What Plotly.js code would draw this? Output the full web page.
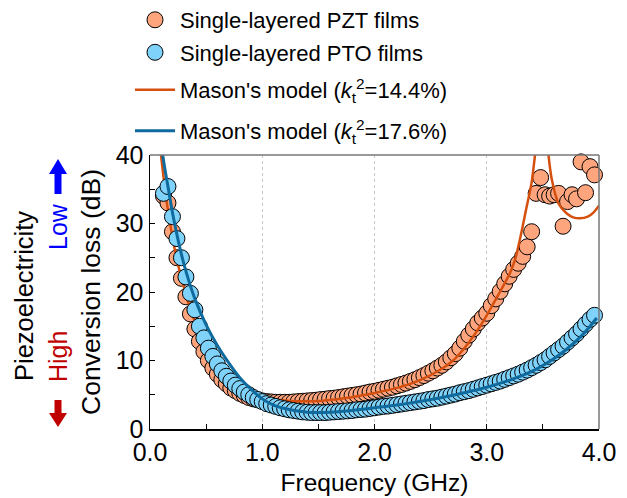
<!DOCTYPE html>
<html>
<head>
<meta charset="utf-8">
<script src="https://cdn.plot.ly/plotly-3.0.1.min.js"></script>
<style>html,body{margin:0;padding:0;background:#fff}#chart{width:627px;height:498px}</style>
</head>
<body>
<div id="chart"></div>
<script>
// Measured frequency points (GHz)
const freq = [0.12,0.16,0.20,0.24,0.28,0.32,0.36,0.40,0.44,0.48,
  0.52,0.56,0.60,0.64,0.68,0.72,0.76,0.80,0.84,0.88,
  0.92,0.96,1.00,1.04,1.08,1.12,1.16,1.20,1.24,1.28,
  1.32,1.36,1.40,1.44,1.48,1.52,1.56,1.60,1.64,1.68,
  1.72,1.76,1.80,1.84,1.88,1.92,1.96,2.00,2.04,2.08,
  2.12,2.16,2.20,2.24,2.28,2.32,2.36,2.40,2.44,2.48,
  2.52,2.56,2.60,2.64,2.68,2.72,2.76,2.80,2.84,2.88,
  2.92,2.96,3.00,3.04,3.08,3.12,3.16,3.20,3.24,3.28,
  3.32,3.36,3.40,3.44,3.48,3.52,3.56,3.60,3.64,3.68,
  3.72,3.76,3.80,3.84,3.88,3.92,3.96];

// Single-layered PZT films, conversion loss (dB)
const lossPZT = [34.0,33.0,28.8,25.0,22.0,19.3,16.8,14.6,12.8,11.3,
  10.0,8.9,8.0,7.2,6.6,6.0,5.6,5.2,4.9,4.6,
  4.4,4.25,4.1,4.0,3.95,3.9,3.9,3.9,3.9,3.95,
  4.0,4.05,4.1,4.15,4.2,4.3,4.35,4.45,4.5,4.6,
  4.7,4.8,4.9,5.0,5.1,5.25,5.4,5.5,5.65,5.8,
  5.95,6.1,6.3,6.5,6.7,6.95,7.2,7.5,7.8,8.15,
  8.5,8.9,9.3,9.8,10.4,11.0,11.8,12.8,13.7,14.6,
  15.5,16.2,16.9,18.0,19.0,20.1,21.2,22.3,23.3,24.2,
  25.2,26.6,28.8,34.4,36.7,34.2,34.0,34.2,34.4,29.6,
  33.2,34.2,33.6,39.0,34.5,38.3,37.1];

// Single-layered PTO films, conversion loss (dB)
const lossPTO = [34.4,35.4,31.0,27.8,25.0,22.2,19.8,17.4,15.0,13.3,
  11.8,10.6,9.5,8.5,7.7,7.0,6.4,5.9,5.4,5.0,
  4.6,4.3,4.0,3.7,3.5,3.3,3.1,2.95,2.8,2.7,
  2.6,2.5,2.45,2.4,2.4,2.4,2.4,2.45,2.5,2.55,
  2.6,2.65,2.7,2.8,2.85,2.9,3.0,3.1,3.2,3.3,
  3.35,3.45,3.55,3.65,3.75,3.85,3.95,4.05,4.15,4.3,
  4.4,4.5,4.65,4.8,4.95,5.1,5.3,5.45,5.6,5.8,
  6.0,6.2,6.4,6.6,6.8,7.0,7.25,7.5,7.75,8.0,
  8.3,8.6,8.95,9.3,9.7,10.1,10.6,11.1,11.6,12.1,
  12.7,13.3,13.9,14.6,15.3,16.0,16.6];

// Mason's model, kt^2 = 14.4 % (null = break at resonance)
const masonF144 = [0.098,0.12,0.15,0.2,0.25,0.3,0.35,0.4,0.5,0.6,0.7,0.8,0.9,1.0,1.1,1.2,1.3,1.4,1.5,1.6,1.8,2.0,2.2,2.4,2.6,2.7,2.8,2.9,3.0,3.1,3.2,3.25,3.3,3.35,3.4,3.43,3.45,
  null,3.53,3.55,3.58,3.64,3.71,3.77,3.83,3.9,3.95,4.0];
const masonL144 = [40,36.8,33.0,28.0,24.0,20.8,18.0,15.7,12.2,9.6,7.8,6.4,5.4,4.8,4.4,4.15,4.05,4.05,4.1,4.25,4.65,5.25,6.0,7.1,8.8,10.0,11.8,14.0,16.6,19.5,22.5,24.6,28.0,32.0,36.0,40,43,
  null,44,40,36.4,32.9,31.5,30.9,30.75,31.0,31.6,32.6];

// Mason's model, kt^2 = 17.6 %
const masonF176 = [0.113,0.13,0.16,0.2,0.25,0.3,0.35,0.4,0.5,0.6,0.7,0.8,0.9,1.0,1.1,1.2,1.3,1.4,1.5,1.6,1.7,1.8,1.9,2.0,2.2,2.4,2.6,2.8,3.0,3.2,3.4,3.6,3.7,3.8,3.9,3.98];
const masonL176 = [40,38.2,35.4,31.6,27.6,24.2,21.4,19.0,15.2,12.2,9.7,7.5,5.8,4.4,3.5,3.0,2.65,2.45,2.4,2.45,2.55,2.7,2.9,3.1,3.5,4.0,4.6,5.3,6.1,7.1,8.4,10.3,11.5,12.9,14.6,16.2];

const xTickVals = [0,1,2,3,4];
const xTickText = ['0.0','1.0','2.0','3.0','4.0'];
const yTickVals = [0,10,20,30,40];

const FONT = 'Arial, "Liberation Sans", sans-serif';
const FS = 25, LFS = 22;
const W = 627, H = 498, ML = 150, MR = 28, MT = 155, MB = 69;
const PW = W - ML - MR, PH = H - MT - MB;
const px = v => (v - ML) / PW;          // pixel x -> paper x
const py = v => (H - MB - v) / PH;      // pixel y -> paper y
const cy = v => 1 - v / H;              // pixel y -> container y

const traces = [
  {x: freq.slice(0, lossPZT.length), y: lossPZT, type: 'scatter', mode: 'markers',
   name: 'Single-layered PZT films', legend: 'legend', cliponaxis: false,
   marker: {size: 16, color: '#FFA57E', line: {color: '#000', width: 1}}},
  {x: masonF144, y: masonL144, type: 'scatter', mode: 'lines', connectgaps: false,
   name: "Mason's model (<i>k</i><sub>t</sub><sup>2</sup>=14.4%)", legend: 'legend3',
   line: {color: '#D5500F', width: 2.5, shape: 'spline', smoothing: 0.6}},
  {x: freq.slice(0, lossPTO.length), y: lossPTO, type: 'scatter', mode: 'markers',
   name: 'Single-layered PTO films', legend: 'legend2', cliponaxis: false,
   marker: {size: 16, color: '#7FD2FA', line: {color: '#000', width: 1}}},
  {x: masonF176, y: masonL176, type: 'scatter', mode: 'lines',
   name: "Mason's model (<i>k</i><sub>t</sub><sup>2</sup>=17.6%)", legend: 'legend4',
   line: {color: '#0F6A9E', width: 3, shape: 'spline', smoothing: 0.6}}
];

const legendBase = {x: px(130), xanchor: 'left', yref: 'container', yanchor: 'middle',
                    bgcolor: 'rgba(0,0,0,0)', font: {family: FONT, size: LFS, color: '#000'}, itemwidth: 40};

const layout = {
  width: W, height: H,
  margin: {l: ML, r: MR, t: MT, b: MB, pad: 0},
  paper_bgcolor: '#fff', plot_bgcolor: '#fff',
  font: {family: FONT, size: FS, color: '#000'},
  showlegend: true,
  legend:  Object.assign({}, legendBase, {y: cy(20)}),
  legend2: Object.assign({}, legendBase, {y: cy(52.5)}),
  legend3: Object.assign({}, legendBase, {y: cy(90)}),
  legend4: Object.assign({}, legendBase, {y: cy(131)}),
  xaxis: {range: [0, 4], tickvals: xTickVals, ticktext: xTickText,
          ticks: 'inside', ticklen: 5, tickwidth: 1, tickcolor: '#000',
          minor: {dtick: 0.5, ticks: 'inside', ticklen: 5, tickwidth: 1, tickcolor: '#000', showgrid: false},
          showline: true, linecolor: '#000', linewidth: 1.5, mirror: false,
          showgrid: true, gridcolor: '#bbb', gridwidth: 0.8, griddash: 'dot', zeroline: false,
          tickfont: {family: FONT, size: FS, color: '#000'},
          title: {text: 'Frequency (GHz)', font: {family: FONT, size: 24.5, color: '#000'}, standoff: 9}},
  yaxis: {range: [0, 40], tickvals: yTickVals,
          ticks: 'inside', ticklen: 5, tickwidth: 1, tickcolor: '#000',
          minor: {dtick: 5, ticks: 'inside', ticklen: 5, tickwidth: 1, tickcolor: '#000', showgrid: false},
          showline: true, linecolor: '#000', linewidth: 1.5, mirror: false,
          showgrid: false, zeroline: false,
          tickfont: {family: FONT, size: FS, color: '#000'},
          title: {text: 'Conversion loss (dB)', font: {family: FONT, size: 26.5, color: '#000'}, standoff: 7}},
  shapes: [
    {type: 'line', xref: 'paper', yref: 'paper', x0: 0, x1: 1, y0: 1, y1: 1, line: {color: '#777', width: 1.5}},
    {type: 'line', xref: 'paper', yref: 'paper', x0: 1, x1: 1, y0: 0, y1: 1, line: {color: '#777', width: 1.5}},
    // blue "low" arrow (up)
    {type: 'path', xref: 'paper', yref: 'paper', fillcolor: '#0000FF', line: {width: 0},
     path: `M ${px(58)} ${py(159)} L ${px(67)} ${py(174)} L ${px(61.5)} ${py(174)} L ${px(61.5)} ${py(194)} L ${px(54.5)} ${py(194)} L ${px(54.5)} ${py(174)} L ${px(49)} ${py(174)} Z`},
    // red "high" arrow (down)
    {type: 'path', xref: 'paper', yref: 'paper', fillcolor: '#C00000', line: {width: 0},
     path: `M ${px(58)} ${py(427)} L ${px(67)} ${py(413)} L ${px(61.5)} ${py(413)} L ${px(61.5)} ${py(400)} L ${px(54.5)} ${py(400)} L ${px(54.5)} ${py(413)} L ${px(49)} ${py(413)} Z`}
  ],
  annotations: [
    {text: 'Piezoelectricity', xref: 'paper', yref: 'paper', x: px(24), y: py(296), textangle: -90,
     showarrow: false, xanchor: 'center', yanchor: 'middle', font: {family: FONT, size: 25.5, color: '#000'}},
    {text: 'Low', xref: 'paper', yref: 'paper', x: px(58), y: py(227), textangle: -90,
     showarrow: false, xanchor: 'center', yanchor: 'middle', font: {family: FONT, size: FS, color: '#0000FF'}},
    {text: 'High', xref: 'paper', yref: 'paper', x: px(58), y: py(357), textangle: -90,
     showarrow: false, xanchor: 'center', yanchor: 'middle', font: {family: FONT, size: FS, color: '#C00000'}}
  ]
};

Plotly.newPlot('chart', traces, layout, {displayModeBar: false, staticPlot: true});
</script>
</body>
</html>
